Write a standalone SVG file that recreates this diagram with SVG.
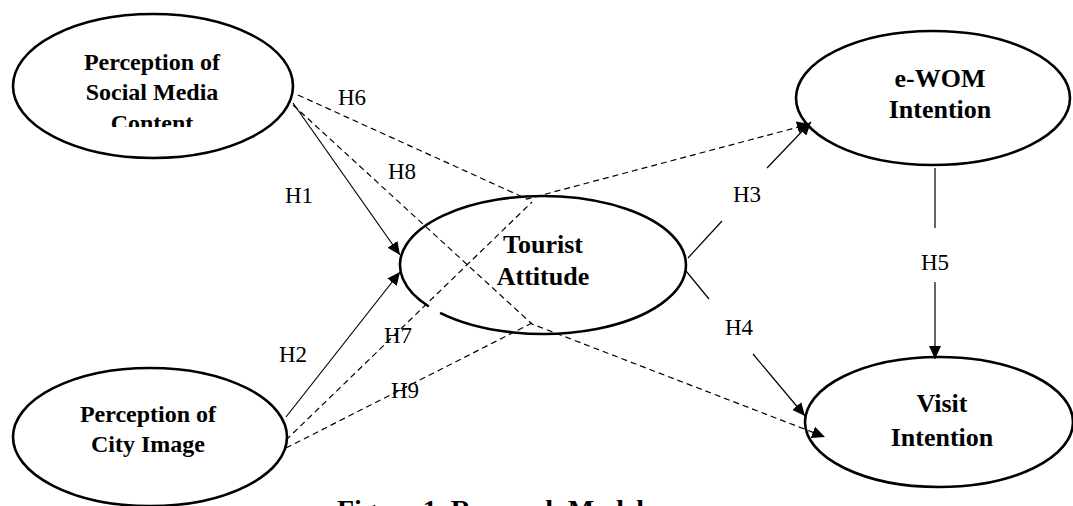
<svg xmlns="http://www.w3.org/2000/svg" width="1073" height="506" viewBox="0 0 1073 506">
<style>
.node{fill:#fff;stroke:#000;stroke-width:2.6}
.nt{font-family:"Liberation Serif","Times New Roman",serif;font-weight:bold;font-size:24px;text-anchor:middle;fill:#000}
.big{font-size:26px}
.lbl{font-family:"Liberation Serif","Times New Roman",serif;font-size:23px;text-anchor:middle;fill:#000}
.solid{fill:none;stroke:#000;stroke-width:1.2}
.dash{fill:none;stroke:#000;stroke-width:1.2;stroke-dasharray:6 4}
.title{font-family:"Liberation Serif","Times New Roman",serif;font-weight:bold;font-size:28px;fill:#000}
</style>
<defs>
<marker id="arr" markerUnits="userSpaceOnUse" markerWidth="14" markerHeight="12" refX="13" refY="6" orient="auto">
<path d="M0,0 L13,6 L0,12 z" fill="#000"/>
</marker>
<clipPath id="clipSM"><rect x="0" y="0" width="320" height="127"/></clipPath>
</defs>
<rect width="1073" height="506" fill="#fff"/>

<g id="n-social">
<ellipse class="node" cx="153" cy="86" rx="140" ry="72"/>
<g clip-path="url(#clipSM)">
<text class="nt" x="152" y="70">Perception of</text>
<text class="nt" x="152" y="100">Social Media</text>
<text class="nt" x="152" y="131">Content</text>
</g>
</g>

<g id="n-city">
<ellipse class="node" cx="150" cy="437" rx="137" ry="69"/>
<text class="nt" x="148" y="422">Perception of</text>
<text class="nt" x="148" y="452">City Image</text>
</g>

<g id="n-attitude">
<ellipse cx="543" cy="265" rx="143" ry="69" fill="#fff"/>
<path class="node" fill="none" d="M440.1,312.9 A143,69 0 0 0 686,265 A143,69 0 1 0 428.8,306.5"/>
<text class="nt big" x="543" y="253">Tourist</text>
<text class="nt big" x="543" y="285">Attitude</text>
</g>

<g id="n-ewom">
<ellipse class="node" cx="933" cy="98" rx="137" ry="67"/>
<text class="nt big" x="940" y="87">e-WOM</text>
<text class="nt big" x="940" y="118">Intention</text>
</g>

<g id="n-visit">
<ellipse class="node" cx="939" cy="422" rx="134" ry="65"/>
<text class="nt big" x="942" y="412">Visit</text>
<text class="nt big" x="942" y="446">Intention</text>
</g>

<g id="connectors">
<!-- H1 -->
<line class="solid" x1="293" y1="103" x2="400" y2="255" marker-end="url(#arr)"/>
<!-- H2 -->
<line class="solid" x1="286" y1="417" x2="400" y2="272" marker-end="url(#arr)"/>
<!-- H3 -->
<line class="solid" x1="688" y1="258" x2="722" y2="221"/>
<line class="solid" x1="767" y1="168" x2="811" y2="122" marker-end="url(#arr)"/>
<!-- H4 -->
<line class="solid" x1="686" y1="271" x2="709" y2="299"/>
<line class="solid" x1="753" y1="354" x2="805" y2="416" marker-end="url(#arr)"/>
<!-- H5 -->
<line class="solid" x1="935" y1="168" x2="935" y2="228"/>
<line class="solid" x1="935" y1="282" x2="935" y2="359" marker-end="url(#arr)"/>
<!-- H6 -->
<polyline class="dash" points="298,95 527,199 810,124" marker-end="url(#arr)"/>
<!-- H7 -->
<polyline class="dash" points="286,440 532,202"/>
<!-- H8 -->
<polyline class="dash" points="293,105 532,324 825,437" marker-end="url(#arr)"/>
<!-- H9 -->
<polyline class="dash" points="286,448 532,323"/>
</g>

<g id="labels">
<text class="lbl" x="299" y="203">H1</text>
<text class="lbl" x="293" y="362">H2</text>
<text class="lbl" x="747" y="202">H3</text>
<text class="lbl" x="739" y="335">H4</text>
<text class="lbl" x="935" y="270">H5</text>
<text class="lbl" x="352" y="105">H6</text>
<text class="lbl" x="398" y="343">H7</text>
<text class="lbl" x="402" y="179">H8</text>
<text class="lbl" x="405" y="398">H9</text>
</g>

<text class="title" x="337" y="519">Figure 1. Research Model</text>
</svg>
